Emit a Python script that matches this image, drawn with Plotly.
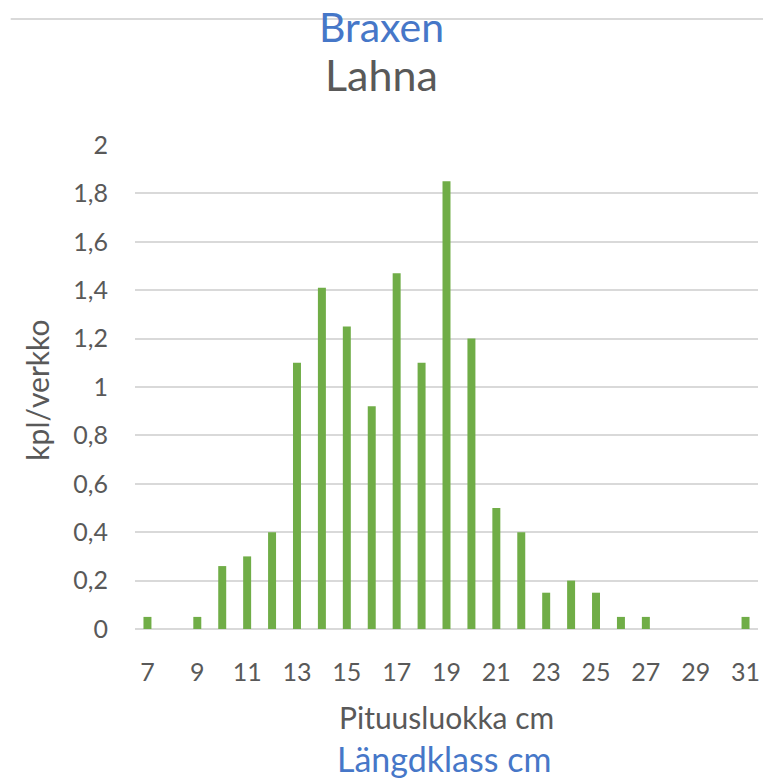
import plotly.graph_objects as go

lengths = list(range(7, 32))
values = [0.05, 0.0, 0.05, 0.26, 0.30, 0.40, 1.10, 1.41, 1.25, 0.92, 1.47, 1.10, 1.85, 1.20,
          0.50, 0.40, 0.15, 0.20, 0.15, 0.05, 0.05, 0.0, 0.0, 0.0, 0.05]
x_ticks = list(range(7, 32, 2))
y_ticks = [0, 0.2, 0.4, 0.6, 0.8, 1.0, 1.2, 1.4, 1.6, 1.8, 2.0]

title_sv = "Braxen"
title_fi = "Lahna"
ytitle = "kpl/verkko"
xtitle_fi = "Pituusluokka cm"
xtitle_sv = "Längdklass cm"

FONT = "Lato"
BLUE = "#4677c8"
GRAY = "#595959"
GRID = "#d9d9d9"

OFF = 8  # page body margin
W, H = 771 - OFF, 779 - OFF
L, R, T, B = 134.5 - OFF, 12.5, 145 - OFF, 150

fig = go.Figure(go.Bar(x=lengths, y=values, marker_color="#70ad47", marker_line_width=0))

fig.update_layout(
    width=W, height=H,
    margin=dict(l=L, r=R, t=T, b=B),
    paper_bgcolor="white", plot_bgcolor="white",
    separators=", ",
    bargap=0.68,
    showlegend=False,
    font=dict(family=FONT, color=GRAY),
)
fig.update_xaxes(
    range=[6.5, 31.5], tickvals=x_ticks, ticktext=[str(v) for v in x_ticks],
    showgrid=False, zeroline=False, showline=False,
    tickfont=dict(size=25, color=GRAY), ticks="outside", ticklen=21, tickcolor="rgba(0,0,0,0)",
)
fig.update_yaxes(
    range=[0, 2], tickvals=y_ticks,
    showgrid=True, gridcolor=GRID, gridwidth=1.5, zeroline=True, zerolinecolor=GRID, zerolinewidth=1.5,
    showline=False, tickfont=dict(size=25, color=GRAY),
    ticks="outside", ticklen=21, tickcolor="rgba(0,0,0,0)",
)

pw = W - L - R
ph = H - T - B
def px(xp):
    return (xp - OFF - L) / pw
def py(yp):
    return (H - B - (yp - OFF)) / ph

fig.add_shape(type="line", xref="paper", yref="paper", x0=px(10), x1=px(771), y0=py(19), y1=py(19),
              line=dict(color=GRID, width=2), layer="below")

ann = [
    dict(text=title_sv, x=px(381), y=py(26), font=dict(size=41, color=BLUE)),
    dict(text=title_fi, x=px(381), y=py(74), font=dict(size=43, color=GRAY)),
    dict(text=ytitle, x=px(36), y=py(390), font=dict(size=30, color=GRAY), textangle=-90),
    dict(text=xtitle_fi, x=px(446), y=py(717), font=dict(size=30, color=GRAY)),
    dict(text=xtitle_sv, x=px(444), y=py(758), font=dict(size=34, color=BLUE)),
]
for a in ann:
    fig.add_annotation(xref="paper", yref="paper", showarrow=False, xanchor="center", yanchor="middle",
                       bgcolor="rgba(0,0,0,0)", **a)

fig.write_html("out.html")
